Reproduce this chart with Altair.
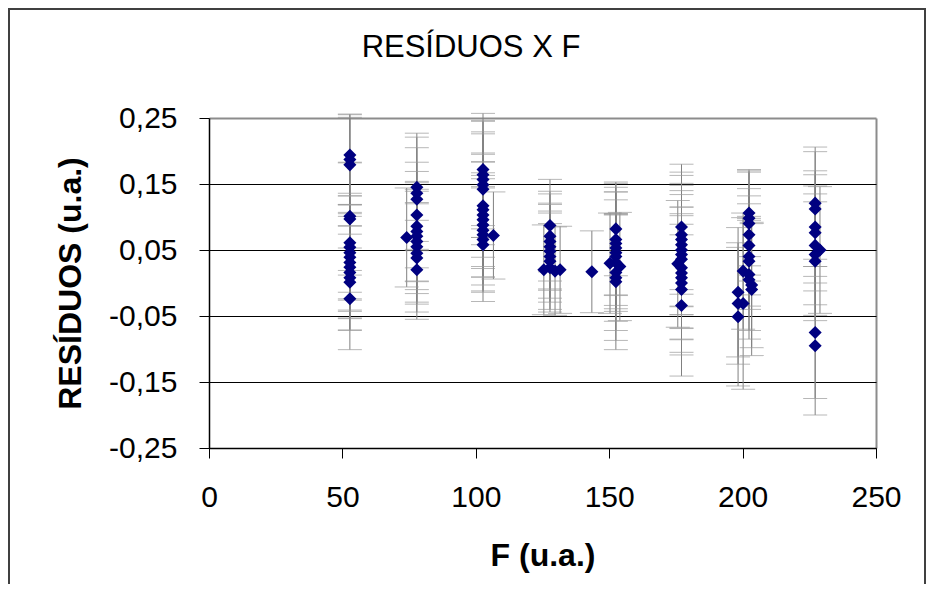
import altair as alt
import pandas as pd

# ---- data (F in u.a., residual, error half-width) ----
F_a = [52.8] * 15
R_a = [0.194, 0.187, 0.179, 0.101, 0.097, 0.061, 0.054, 0.046, 0.039, 0.031, 0.024, 0.016, 0.008, 0.001, -0.024]
E_a = [0.062, 0.068, 0.072, 0.082, 0.085, 0.075, 0.078, 0.072, 0.080, 0.074, 0.077, 0.070, 0.079, 0.073, 0.077]

F_b = [77.9] * 12 + [74.1]
R_b = [0.145, 0.136, 0.127, 0.103, 0.086, 0.078, 0.071, 0.063, 0.055, 0.045, 0.038, 0.020, 0.069]
E_b = [0.082, 0.085, 0.078, 0.080, 0.083, 0.076, 0.081, 0.079, 0.084, 0.077, 0.082, 0.075, 0.075]

F_c = [102.7] * 14 + [106.6]
R_c = [0.172, 0.164, 0.157, 0.149, 0.142, 0.117, 0.111, 0.103, 0.096, 0.088, 0.080, 0.073, 0.066, 0.058, 0.072]
E_c = [0.085, 0.082, 0.088, 0.080, 0.084, 0.078, 0.086, 0.081, 0.087, 0.079, 0.083, 0.085, 0.080, 0.086, 0.066]

F_d = [127.8] * 8 + [125.5, 129.7, 131.6, 143.5]
R_d = [0.087, 0.071, 0.063, 0.055, 0.048, 0.040, 0.033, 0.023, 0.020, 0.018, 0.020, 0.017]
E_d = [0.070, 0.068, 0.072, 0.066, 0.071, 0.069, 0.073, 0.067, 0.068, 0.067, 0.066, 0.062]

F_e = [152.5] * 10 + [154.0, 150.3]
R_e = [0.082, 0.066, 0.060, 0.053, 0.046, 0.040, 0.031, 0.016, 0.008, 0.002, 0.025, 0.030]
E_e = [0.071, 0.085, 0.078, 0.092, 0.080, 0.098, 0.074, 0.088, 0.095, 0.103, 0.082, 0.076]

F_f = [177.1] * 7 + [175.7] + [177.1] * 6
R_f = [0.085, 0.073, 0.066, 0.058, 0.050, 0.043, 0.036, 0.029, 0.023, 0.015, 0.008, 0.000, -0.010, -0.034]
E_f = [0.095, 0.090, 0.102, 0.093, 0.098, 0.091, 0.104, 0.096, 0.092, 0.100, 0.094, 0.105, 0.099, 0.107]

F_g = [202.4] * 9 + [203.4, 203.4, 200.2, 200.2, 198.3, 198.3, 198.3]
R_g = [0.106, 0.098, 0.090, 0.073, 0.057, 0.040, 0.033, 0.013, 0.005, -0.003, -0.010, 0.018, -0.031, -0.014, -0.031, -0.051]
E_g = [0.066, 0.072, 0.078, 0.070, 0.075, 0.080, 0.068, 0.085, 0.090, 0.095, 0.100, 0.088, 0.130, 0.098, 0.092, 0.105]

F_h = [227.2] * 7 + [229.0] + [227.2] * 2
R_h = [0.121, 0.112, 0.085, 0.076, 0.057, 0.043, 0.033, 0.050, -0.075, -0.095]
E_h = [0.085, 0.087, 0.085, 0.088, 0.090, 0.092, 0.090, 0.096, 0.100, 0.105]

y_ticks = [-0.25, -0.15, -0.05, 0.05, 0.15, 0.25]
x_ticks = [0, 50, 100, 150, 200, 250]
chart_title = "RESÍDUOS X F"

F_all = F_a + F_b + F_c + F_d + F_e + F_f + F_g + F_h
R_all = R_a + R_b + R_c + R_d + R_e + R_f + R_g + R_h
E_all = E_a + E_b + E_c + E_d + E_e + E_f + E_g + E_h

df = pd.DataFrame({"F": F_all, "R": R_all, "E": E_all})
df["lo"] = df["R"] - df["E"]
df["hi"] = df["R"] + df["E"]

FONT = "Liberation Sans"

x_axis = alt.Axis(
    values=x_ticks, title="F (u.a.)", titleFontWeight="bold", labelPadding=24,
    titlePadding=28, grid=True,
    gridOpacity={"condition": {"test": "datum.value >= 250", "value": 1}, "value": 0},
    gridColor="#8c8c8c", gridWidth=2, labelFlush=False,
)
y_axis = alt.Axis(
    values=y_ticks, title="RESÍDUOS (u.a.)", titleFontWeight="bold",
    labelExpr="(datum.value < 0 ? '-' : '') + replace(format(abs(datum.value), '.2f'), '.', ',')",
    labelPadding=22, titlePadding=21, grid=True,
    gridColor={"condition": {"test": "datum.value > 0.2", "value": "#8c8c8c"}, "value": "black"},
    gridWidth={"condition": {"test": "datum.value > 0.2", "value": 2}, "value": 1},
)

x_scale = alt.Scale(domain=[0, 250], nice=False, zero=False)
y_scale = alt.Scale(domain=[-0.25, 0.25], nice=False, zero=False)


def xe():
    return alt.X("F:Q", scale=x_scale, axis=x_axis)


def ye(field):
    return alt.Y(f"{field}:Q", scale=y_scale, axis=y_axis)


one = pd.DataFrame({"k": [0]})

frame = alt.Chart(one).mark_rect(
    fillOpacity=0, stroke="#404040", strokeWidth=2
).encode(x=alt.value(-200), x2=alt.value(716), y=alt.value(-109), y2=alt.value(700))

title_mark = alt.Chart(one).mark_text(
    font=FONT, fontSize=31, color="black", align="center", baseline="alphabetic"
).encode(x=alt.value(262), y=alt.value(-61), text=alt.value(chart_title))

bars = alt.Chart(df).mark_rule(color="#808080", strokeWidth=1).encode(
    x=xe(), y=ye("lo"), y2="hi:Q"
)
caps_lo = alt.Chart(df).mark_tick(orient="horizontal", size=24, thickness=1, color="#999999").encode(
    x=xe(), y=ye("lo")
)
caps_hi = alt.Chart(df).mark_tick(orient="horizontal", size=24, thickness=1, color="#999999").encode(
    x=xe(), y=ye("hi")
)
points = alt.Chart(df).mark_point(
    shape="diamond", filled=True, size=170, color="#000080", opacity=1
).encode(x=xe(), y=ye("R"))

chart = alt.layer(frame, title_mark, bars, caps_lo, caps_hi, points).properties(
    width=667,
    height=330,
    padding={"left": 201, "top": 110, "right": 50, "bottom": 136},
    autosize=alt.AutoSizeParams(type="none"),
).configure_axis(
    labelFont=FONT, titleFont=FONT, labelFontSize=30, titleFontSize=32,
    labelColor="black", titleColor="black", domainColor="black", tickColor="black",
    tickSize=10, domainWidth=1.5, tickWidth=1,
).configure_view(strokeWidth=0)

chart.save("out.html", embed_options={"renderer": "svg", "actions": False})
